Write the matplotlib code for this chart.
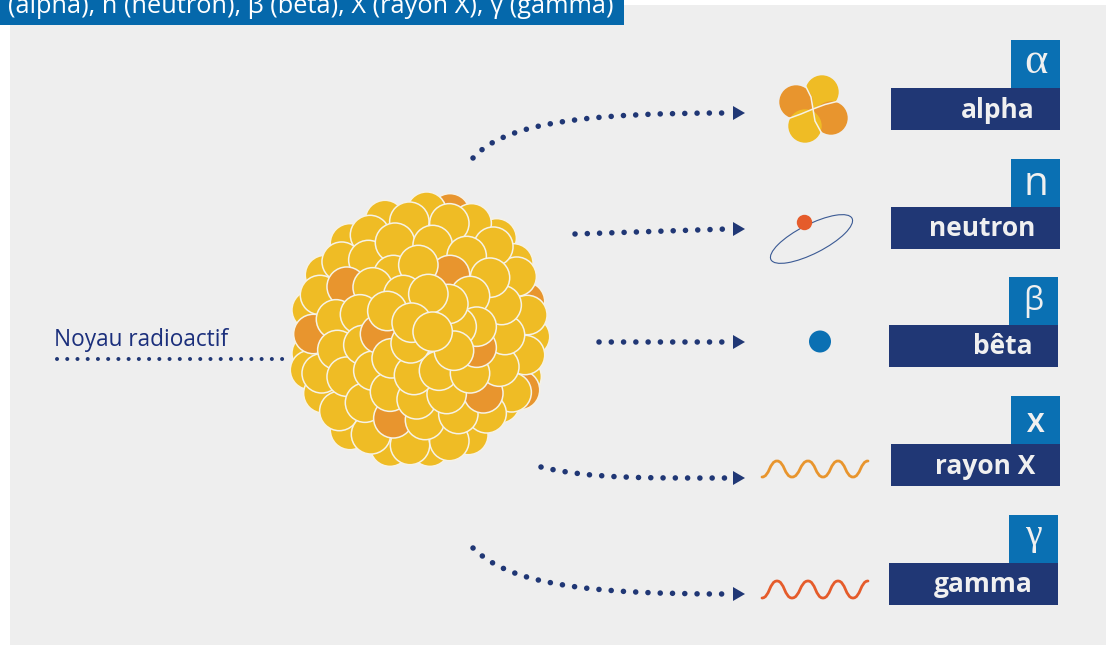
import matplotlib
matplotlib.use("Agg")
import matplotlib.pyplot as plt
from matplotlib.patches import Circle, Ellipse, Polygon, Rectangle, PathPatch
from matplotlib.path import Path

plt.rcParams['font.family'] = ['Open Sans', 'DejaVu Sans']

title = "(alpha), n (neutron), β (bêta), X (rayon X), γ (gamma)"
nucleus_label = "Noyau radioactif"
symbols = ["α", "n", "β", "X", "γ"]
names = ["alpha", "neutron", "bêta", "rayon X", "gamma"]

# box left edge, top of the blue square, per particle
box_left = [891, 891, 889, 891, 889]
box_top = [40, 159, 277, 396, 515]

# symbols do not share a font in the original
sym_family = ["Liberation Serif", "Open Sans", "Open Sans", "Open Sans", "Liberation Serif"]
sym_size = [32, 29, 23, 19, 27]
sym_weight = ["normal", "normal", "normal", "bold", "normal"]
sym_base = [33, 36, 33, 36, 30]

# nucleus balls, read on a 3x crop with origin (280,180), back to front
ball_x = [510, 440, 315, 210, 650, 700, 135, 735, 95, 750, 95, 90, 725, 720, 130, 660, 210, 330, 450, 565,
          575, 735, 742, 710, 695, 620, 178, 273, 390, 508, 185, 270, 120, 100, 125,
          388, 508, 265, 345, 458, 640, 560, 200, 340, 278, 168, 240, 172, 200, 250,
          255, 340, 280, 330, 435, 410, 535, 610, 500, 658, 675, 665, 630, 510, 415,
          370, 300, 322, 335, 402, 477, 570, 590, 570, 590, 530, 505, 445, 522, 392, 395, 458]
ball_y = [100, 95, 120, 190, 175, 250, 285, 365, 390, 470, 520, 570, 590, 630, 640, 670, 750, 800, 800, 765,
          130, 525, 405, 290, 637, 700, 693, 763, 795, 783, 245, 165, 345, 462, 580,
          125, 130, 240, 188, 195, 200, 228, 320, 285, 322, 418, 403, 510, 590, 495,
          668, 715, 572, 635, 720, 658, 702, 640, 642, 560, 465, 375, 293, 285, 255,
          345, 462, 393, 535, 585, 572, 580, 503, 348, 440, 440, 372, 342, 512, 490, 428, 455]
ball_orange = [(510, 100), (735, 365), (720, 630), (200, 320), (100, 462), (340, 715),
               (610, 640), (510, 285), (590, 503), (300, 462)]

# dotted leaders as bezier control points, pixels
curve_top = [(473, 158), (505, 122), (590, 113), (727, 113)]
line_neutron = [(575, 234), (727, 229)]
line_beta = [(599, 342), (724, 342)]
curve_x = [(541, 467), (590, 479), (650, 478), (727, 478)]
curve_gamma = [(473, 548), (510, 585), (590, 594), (727, 594)]
line_nucleus = [(57, 358.5), (285, 358.5)]
arrow_y = [113, 229, 342, 478, 594]

# wave extrema, pixels
wave_x = [762, 777, 792, 808, 823, 838, 853, 868]
wave_xray_y = [477, 461, 477, 461, 477, 461, 477, 461]
wave_gamma_y = [598, 581, 598, 581, 598, 581, 598, 581]

NAVY = "#203775"
BLUE = "#0a70b3"
YELLOW = "#efbc25"
ORANGE = "#e8952e"
RED = "#e55c2b"
BG = "#eeeeee"
LINE = "#f6f2e6"

fig = plt.figure(figsize=(11.11, 6.45), dpi=100)
ax = fig.add_axes([0, 0, 1, 1])
ax.set_xlim(0, 1111)
ax.set_ylim(645, 0)
ax.axis("off")

ax.add_patch(Rectangle((10, 5), 1096, 640, color=BG, lw=0, zorder=0))
ax.add_patch(Rectangle((0, 0), 624, 25, color="#0568ab", lw=0, zorder=1))
ax.text(7.5, 13, title, color="white", fontsize=18.3, ha="left", va="baseline", zorder=2)

# nucleus
for i in range(len(ball_x)):
    col = ORANGE if (ball_x[i], ball_y[i]) in ball_orange else YELLOW
    ax.add_patch(Circle((280 + ball_x[i] / 3, 180 + ball_y[i] / 3), 19.7, fc=col, ec=LINE, lw=1.1, zorder=3 + i * 0.01))


def dotted(pts, lw=4.0, gap=2.2):
    if len(pts) == 4:
        p = Path(pts, [Path.MOVETO, Path.CURVE4, Path.CURVE4, Path.CURVE4])
    else:
        p = Path(pts)
    ax.add_patch(PathPatch(p, fc="none", ec=NAVY, lw=lw, capstyle="round",
                           linestyle=(0, (0.01, gap)), zorder=5))


for pts in [curve_top, line_neutron, line_beta, curve_x, curve_gamma]:
    dotted(pts)
dotted(line_nucleus, lw=2.9, gap=2.53)

for y in arrow_y:
    ax.add_patch(Polygon([(733, y - 7), (745, y), (733, y + 7)], fc=NAVY, lw=0, zorder=5))

ax.text(54, 346, nucleus_label, color="#1b2f7c", fontsize=16.3, ha="left", va="baseline", zorder=5)


def wave(ys, col):
    verts = [(wave_x[0], ys[0])]
    codes = [Path.MOVETO]
    for k in range(len(wave_x) - 1):
        mid = (wave_x[k] + wave_x[k + 1]) / 2
        verts += [(mid, ys[k]), (mid, ys[k + 1]), (wave_x[k + 1], ys[k + 1])]
        codes += [Path.CURVE4] * 3
    ax.add_patch(PathPatch(Path(verts, codes), fc="none", ec=col, lw=2.0, capstyle="round", zorder=5))


wave(wave_xray_y, ORANGE)
wave(wave_gamma_y, RED)

# alpha particle
for c, col, a, b in [((822, 92), YELLOW, (806, 88), (836, 102)),
                     ((796, 102), ORANGE, (806, 88), (790.5, 118)),
                     ((831, 118), ORANGE, (836, 102), (821, 131.5)),
                     ((805, 126), YELLOW, (790.5, 118), (821, 131.5))]:
    ax.add_patch(Circle(c, 16.7, fc=col, lw=0, zorder=5))
    ax.add_patch(Polygon([(813, 109), a, c, b], fc=col, lw=0, zorder=5))
for pts in [[(806, 87), (811, 97), (813, 109), (815, 121), (821, 132)],
            [(790, 118), (801, 114), (813, 109), (825, 104.5), (837, 101.5)]]:
    ax.plot(*zip(*pts), color=LINE, lw=1.1, zorder=6)

# neutron and beta
ax.add_patch(Ellipse((811.5, 239), 91, 29, angle=-27, fc="none", ec="#3b5a94", lw=0.8, zorder=5))
ax.add_patch(Circle((804.5, 222.5), 7.7, fc=RED, lw=0, zorder=6))
ax.add_patch(Circle((820, 341.5), 11, fc=BLUE, lw=0, zorder=5))

# labels on the right
for i in range(5):
    x, y = box_left[i], box_top[i]
    ax.add_patch(Rectangle((x + 120, y), 49, 48, color=BLUE, lw=0, zorder=5))
    ax.add_patch(Rectangle((x, y + 48), 169, 42, color=NAVY, lw=0, zorder=5))
    ax.text(x + 144, y + 77.5, names[i], color="#f0f0f0", fontsize=19, fontweight="bold",
            ha="right", va="baseline", zorder=6)
    ax.text(x + 144.5, y + sym_base[i], symbols[i], color="#f0f0f0", fontsize=sym_size[i],
            family=[sym_family[i], "DejaVu Sans"], fontweight=sym_weight[i],
            ha="center", va="baseline", zorder=6)

fig.savefig("out.png", dpi=100, facecolor="white")
